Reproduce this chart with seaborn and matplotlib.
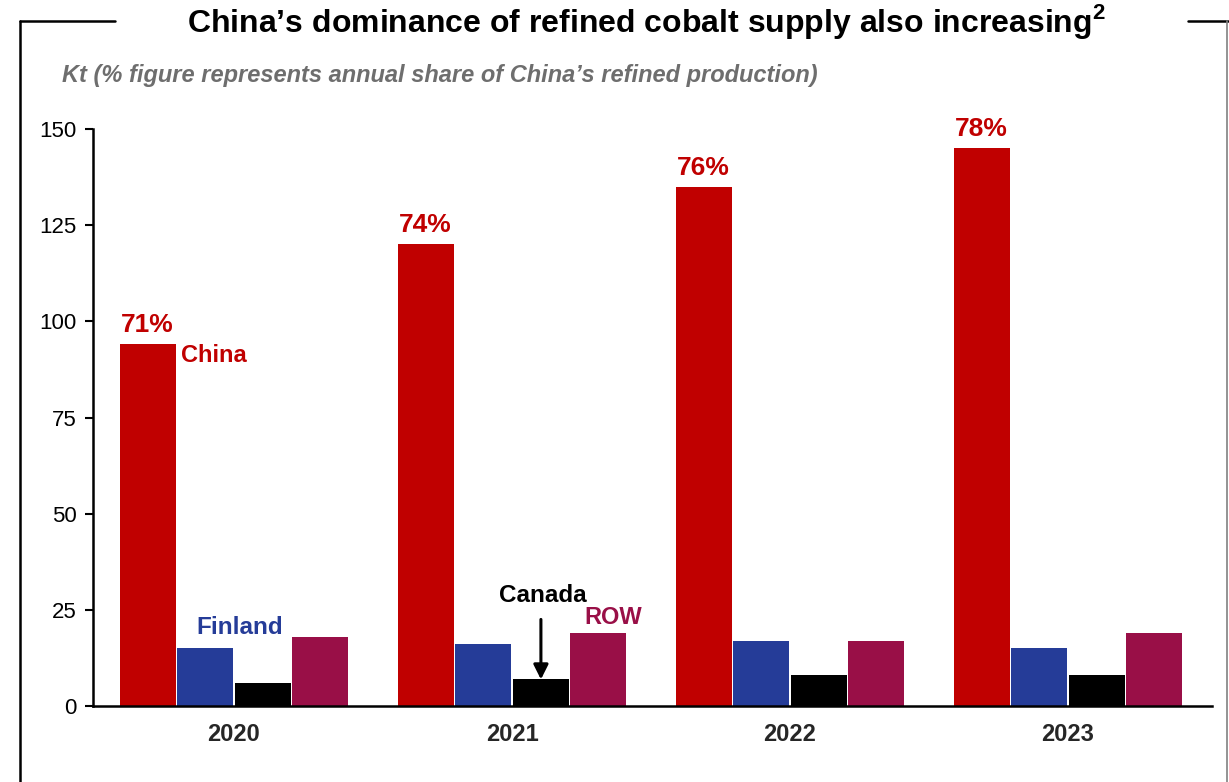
import pandas as pd
import seaborn as sns
import matplotlib.pyplot as plt
from matplotlib.lines import Line2D

# datos (Kt)
years = ["2020", "2021", "2022", "2023"]
countries = ["China", "Finland", "Canada", "ROW"]
china = [94, 120, 135, 145]
finland = [15, 16, 17, 15]
canada = [6, 7, 8, 8]
row = [18, 19, 17, 19]
china_share = ["71%", "74%", "76%", "78%"]

colors = ["#C00000", "#253C98", "#000000", "#990F47"]

df = pd.DataFrame({
    "year": years * 4,
    "country": [c for c in countries for _ in years],
    "kt": china + finland + canada + row,
})

sns.set_theme(style="white")
plt.rcParams["font.family"] = ["Liberation Sans", "DejaVu Sans"]
plt.rcParams["mathtext.fontset"] = "custom"
plt.rcParams["mathtext.rm"] = "Liberation Sans"
plt.rcParams["mathtext.bf"] = "Liberation Sans:bold"

fig = plt.figure(figsize=(12.29, 7.82), dpi=100)
ax = fig.add_axes([0.0757, 0.0972, 0.9105, 0.7378])

sns.barplot(data=df, x="year", y="kt", hue="country", palette=colors,
            width=0.828, gap=0.03, linewidth=0, saturation=1, ax=ax,
            legend=False)

ax.set_xlim(-0.507, 3.518)
ax.set_ylim(0, 150)
ax.set_yticks([0, 25, 50, 75, 100, 125, 150])
ax.set_xlabel("")
ax.set_ylabel("")

for side in ["top", "right"]:
    ax.spines[side].set_visible(False)
for side in ["left", "bottom"]:
    ax.spines[side].set_color("black")
    ax.spines[side].set_linewidth(1.8)

ax.tick_params(axis="y", length=6, width=1.5, color="black", direction="out",
               left=True, labelsize=16, pad=6, labelcolor="black")
ax.tick_params(axis="x", length=0, labelsize=17, pad=12)
for lab in ax.get_xticklabels():
    lab.set_fontweight("bold")

# porcentajes sobre las barras de China
ax.bar_label(ax.containers[0], labels=china_share, padding=5,
             color="#C00000", fontsize=19, fontweight="bold")

# etiquetas de series
ax.text(-0.19, 91, "China", color="#C00000", fontsize=17, fontweight="bold",
        ha="left", va="center")
ax.text(0.02, 20.5, "Finland", color="#253C98", fontsize=17.5, fontweight="bold",
        ha="center", va="center")
ax.text(1.11, 28.6, "Canada", color="black", fontsize=17.5, fontweight="bold",
        ha="center", va="center")
ax.text(1.363, 23.1, "ROW", color="#990F47", fontsize=17, fontweight="bold",
        ha="center", va="center")
ax.annotate("", xy=(1.104, 6.9), xytext=(1.104, 22.5),
            arrowprops=dict(arrowstyle="-|>", color="black", lw=2.2,
                            mutation_scale=22, shrinkA=0, shrinkB=0))

# titulo y subtitulo
fig.text(0.526, 0.973,
         "China\u2019s dominance of refined cobalt supply also increasing$^{\\mathbf{2}}$",
         ha="center", va="center", fontsize=23, fontweight="bold", color="black")
fig.text(0.0504, 0.903,
         "Kt (% figure represents annual share of China\u2019s refined production)",
         ha="left", va="center", fontsize=17, fontweight="bold", style="italic",
         color="#6E6E6E")

# marco
fig.add_artist(Line2D([0.0163, 0.0163], [0.0, 0.973], color="black", lw=1.8,
                      transform=fig.transFigure))
fig.add_artist(Line2D([0.0163, 0.0936], [0.973, 0.973], color="black", lw=1.8,
                      transform=fig.transFigure))
fig.add_artist(Line2D([0.9666, 0.999], [0.973, 0.973], color="black", lw=1.8,
                      transform=fig.transFigure))
fig.add_artist(Line2D([0.9985, 0.9985], [0.0, 0.973], color="#808080", lw=1.2,
                      transform=fig.transFigure))

fig.savefig("out.png", dpi=100)
